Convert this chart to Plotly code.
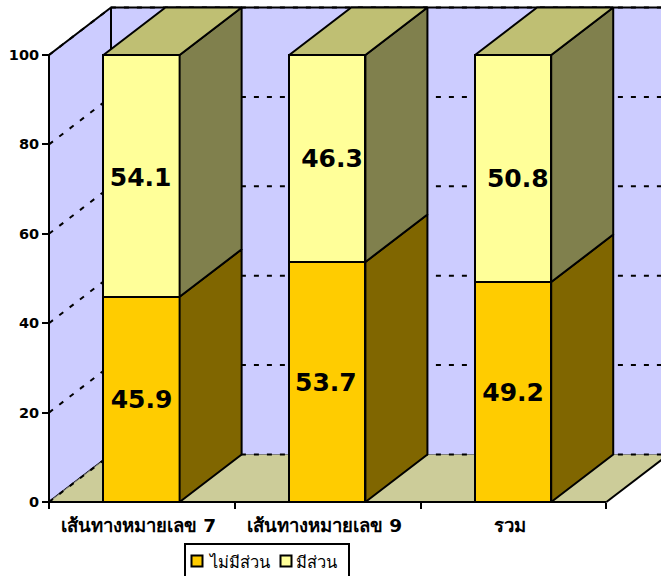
import plotly.graph_objects as go

# Survey shares by route, in percent
categories = ["เส้นทางหมายเลข 7", "เส้นทางหมายเลข 9", "รวม"]
series_names = ["ไม่มีส่วน", "มีส่วน"]
no_part = [45.9, 53.7, 49.2]
has_part = [54.1, 46.3, 50.8]
y_ticks = [0, 20, 40, 60, 80, 100]

# Fine placement of the value labels on each stacked segment
no_part_label_shift = [(0.0, -0.5), (-0.008, -0.6), (0.0, -0.6)]
has_part_label_shift = [(-0.005, -0.8), (0.025, -0.5), (0.025, -2.8)]

# Oblique projection used for the 3D look
PX_PER_CATEGORY = 185.8
PX_PER_PERCENT = 4.47
DEPTH_X = 62 / PX_PER_CATEGORY
DEPTH_Y = 47.5 / PX_PER_PERCENT
BAR_OFFSET = 0.498
BAR_WIDTH = 0.41
TICK_LABEL_OFFSET = 0.482

# The plot area is a little larger than the chart box so thick edges are not clipped
PLOT_LEFT, PLOT_TOP, PLOT_WIDTH, PLOT_HEIGHT = 47, 5, 614, 500
ORIGIN_X, ORIGIN_Y = 49, 502
X_MIN = (PLOT_LEFT - ORIGIN_X) / PX_PER_CATEGORY
X_MAX = X_MIN + PLOT_WIDTH / PX_PER_CATEGORY
Y_MIN = (ORIGIN_Y - (PLOT_TOP + PLOT_HEIGHT)) / PX_PER_PERCENT
Y_MAX = Y_MIN + PLOT_HEIGHT / PX_PER_PERCENT

WALL = "#CCCCFF"
FLOOR = "#CCCC99"
INK = "#000000"
FACES = [
    {"front": "#FFCC00", "side": "#806600"},
    {"front": "#FFFF99", "side": "#80804D"},
]
CAP = "#BFBF73"
FONT = "DejaVu Sans, Verdana, sans-serif"
KEY_FONT = "Noto Sans, Tahoma, sans-serif"

fig = go.Figure()


def polygon(xs, ys, fill, z, line_color=INK, line_width=2):
    fig.add_trace(go.Scatter(
        x=list(xs) + [xs[0]], y=list(ys) + [ys[0]], mode="lines", fill="toself",
        fillcolor=fill, line=dict(color=line_color, width=line_width),
        hoverinfo="skip", showlegend=False, cliponaxis=False, zorder=z,
    ))


def path(xs, ys, z, color=INK, width=2, dash="solid"):
    fig.add_trace(go.Scatter(
        x=xs, y=ys, mode="lines", line=dict(color=color, width=width, dash=dash),
        hoverinfo="skip", showlegend=False, cliponaxis=False, zorder=z,
    ))


# Walls and floor of the chart box
n = len(categories)
polygon([0, DEPTH_X, DEPTH_X, 0], [0, DEPTH_Y, 100 + DEPTH_Y, 100], WALL, 0)
polygon([DEPTH_X, X_MAX + 1, X_MAX + 1, DEPTH_X],
        [DEPTH_Y, DEPTH_Y, 100 + DEPTH_Y, 100 + DEPTH_Y], WALL, 0, WALL, 0.5)
polygon([0, n, n + DEPTH_X, DEPTH_X], [0, 0, DEPTH_Y, DEPTH_Y], FLOOR, 0, "#808080", 1)

# Dashed gridlines running over the side wall and along the back wall
for tick in y_ticks:
    path([0, DEPTH_X, X_MAX + 1], [tick, tick + DEPTH_Y, tick + DEPTH_Y], 1,
         width=2, dash="5px,8px")
path([n, n + DEPTH_X], [0, DEPTH_Y], 1)
path([DEPTH_X, DEPTH_X], [DEPTH_Y, 100 + DEPTH_Y], 1)
path([DEPTH_X, X_MAX + 1], [100 + DEPTH_Y, 100 + DEPTH_Y], 1, width=2)

# Front faces are regular stacked bars
centers = [i + BAR_OFFSET for i in range(n)]
for name, values, face in zip(series_names, [no_part, has_part], FACES):
    fig.add_trace(go.Bar(
        x=centers, y=values, width=BAR_WIDTH, name=name, zorder=2, showlegend=False,
        marker=dict(color=face["front"], line=dict(color=INK, width=2)),
        hoverinfo="skip",
    ))

# Side faces and top caps
for i, center in enumerate(centers):
    left, right = center - BAR_WIDTH / 2, center + BAR_WIDTH / 2
    base = 0
    for values, face in zip([no_part, has_part], FACES):
        top = base + values[i]
        polygon([right, right + DEPTH_X, right + DEPTH_X, right],
                [base, base + DEPTH_Y, top + DEPTH_Y, top], face["side"], 3)
        base = top
    polygon([left, right, right + DEPTH_X, left + DEPTH_X],
            [base, base, base + DEPTH_Y, base + DEPTH_Y], CAP, 3)

# Axis lines stop at the end of the category range
path([0, 0], [0, 100], 4)
path([0, n], [0, 0], 4)

# Value labels centred on each segment
label_x, label_y, label_text = [], [], []
for i, center in enumerate(centers):
    dx, dy = no_part_label_shift[i]
    label_x.append(center + dx)
    label_y.append(no_part[i] / 2 + dy)
    label_text.append(f"{no_part[i]:.1f}")
    dx, dy = has_part_label_shift[i]
    label_x.append(center + dx)
    label_y.append(no_part[i] + has_part[i] / 2 + dy)
    label_text.append(f"{has_part[i]:.1f}")
fig.add_trace(go.Scatter(
    x=label_x, y=label_y, text=label_text, mode="text", textposition="middle center",
    textfont=dict(family=FONT, size=25, color=INK, weight="bold"),
    hoverinfo="skip", showlegend=False, zorder=5,
))


def page_x(px):
    return (px - PLOT_LEFT) / PLOT_WIDTH


def page_y(py):
    return (PLOT_TOP + PLOT_HEIGHT - py) / PLOT_HEIGHT


# Compact key below the axis: frame, two swatches and their names
def key_rect(x0, y0, x1, y1, fill, width):
    return dict(type="rect", xref="paper", yref="paper", x0=page_x(x0), x1=page_x(x1),
                y0=page_y(y0), y1=page_y(y1), fillcolor=fill,
                line=dict(color=INK, width=width))


def key_label(text, px):
    return dict(text=text, x=page_x(px), y=page_y(561), xref="paper", yref="paper",
                xanchor="left", yanchor="middle", showarrow=False,
                font=dict(family=KEY_FONT, size=16.5, color=INK))


key_shapes = [
    key_rect(185, 544, 349, 590, "white", 2),
    key_rect(191.5, 555.5, 202.5, 566.5, FACES[0]["front"], 2),
    key_rect(280.5, 555.5, 291.5, 566.5, FACES[1]["front"], 2),
]
key_labels = [key_label(series_names[0], 206), key_label(series_names[1], 294)]

fig.update_layout(
    width=661, height=576, barmode="stack", showlegend=False,
    margin=dict(l=PLOT_LEFT, r=0, t=PLOT_TOP, b=576 - PLOT_TOP - PLOT_HEIGHT, autoexpand=False),
    paper_bgcolor="white", plot_bgcolor="white",
    font=dict(family=FONT, color=INK),
    shapes=key_shapes, annotations=key_labels,
    xaxis=dict(
        range=[X_MIN, X_MAX], showgrid=False, zeroline=False, showline=False,
        anchor="free", position=page_y(ORIGIN_Y),
        tickmode="array", tickvals=[i + TICK_LABEL_OFFSET for i in range(n)],
        ticktext=categories, ticks="", ticklabelstandoff=10,
        tickfont=dict(family=FONT, size=18.5, color=INK, weight="bold"),
        minor=dict(tickmode="array", tickvals=list(range(n + 1)), ticks="outside",
                   ticklen=6, tickwidth=1.5, tickcolor=INK, showgrid=False),
    ),
    yaxis=dict(
        range=[Y_MIN, Y_MAX], showgrid=False, zeroline=False, showline=False,
        anchor="free", position=page_x(ORIGIN_X),
        tickmode="array", tickvals=y_ticks, ticks="outside", ticklen=7, tickwidth=2,
        tickcolor=INK, tickfont=dict(family=FONT, size=14.5, color=INK, weight="bold"),
    ),
)

fig.write_html("out.html")
